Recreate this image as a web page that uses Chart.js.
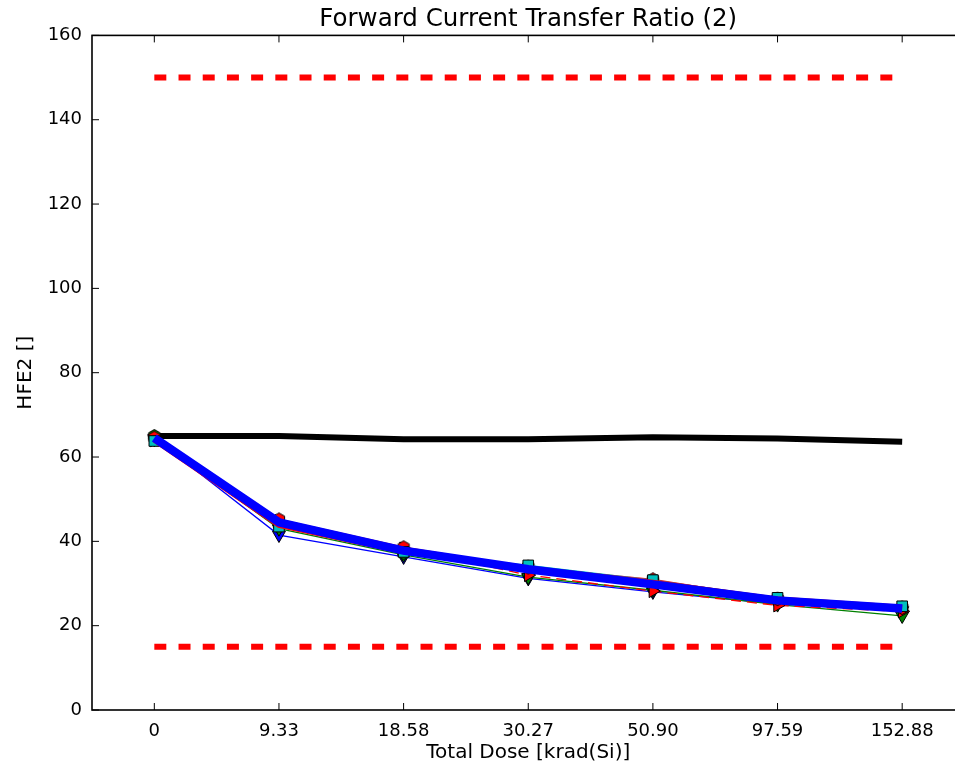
<!DOCTYPE html>
<html>
<head>
<meta charset="utf-8">
<script src="https://cdn.jsdelivr.net/npm/chart.js@4"></script>
<style>
html, body { margin: 0; padding: 0; overflow: hidden; background: #fff; }
canvas { display: block; }
</style>
</head>
<body>
<canvas id="chart" width="973" height="766" style="width:973px;height:766px"></canvas>
<script>
// Dose steps (x categories)
const doseLabels = ['0', '9.33', '18.58', '30.27', '50.90', '97.59', '152.88'];

// Spec limits
const upperLimit = [150, 150, 150, 150, 150, 150, 150];
const lowerLimit = [15, 15, 15, 15, 15, 15, 15];

// Control (unirradiated) reference
const controlRef = [65.0, 65.0, 64.2, 64.2, 64.7, 64.4, 63.6];

// Averages
const meanBlue = [64.5, 44.5, 37.8, 33.4, 29.8, 26.0, 24.1];
const meanRed = [64.0, 43.8, 37.5, 33.6, 30.3, 26.3, 24.4];

// Individual devices
const dev1 = [64.5, 41.5, 36.3, 31.2, 28.0, 25.2, 23.6];
const dev2 = [64.2, 43.0, 36.8, 31.5, 28.4, 25.0, 22.3];
const dev3 = [64.0, 44.8, 38.3, 32.0, 28.2, 24.8, 23.4];
const dev4 = [63.8, 43.5, 37.5, 34.3, 30.8, 26.6, 24.6];
const dev5 = [64.6, 45.2, 38.6, 33.8, 31.0, 26.3, 24.2];
const dev6 = [65.0, 44.0, 37.2, 34.0, 30.6, 26.4, 24.3];

Chart.defaults.font.family = "'DejaVu Sans', sans-serif";
Chart.defaults.font.size = 18;
Chart.defaults.color = '#000';

// hexagon marker (no built-in one in Chart.js)
function hexMarker(fill, r) {
    const c = document.createElement('canvas');
    const s = Math.ceil(r * 2 + 3);
    c.width = c.height = s;
    const g = c.getContext('2d');
    g.beginPath();
    for (let i = 0; i < 6; i++) {
        const a = -Math.PI / 2 + i * Math.PI / 3;
        const px = s / 2 + r * Math.cos(a);
        const py = s / 2 + r * Math.sin(a);
        if (i === 0) g.moveTo(px, py); else g.lineTo(px, py);
    }
    g.closePath();
    g.fillStyle = fill;
    g.fill();
    g.strokeStyle = '#000';
    g.lineWidth = 1;
    g.stroke();
    return c;
}

function device(data, color, style, rotation, dash) {
    return {
        data,
        borderColor: color,
        borderWidth: 1.3,
        borderDash: dash || [],
        backgroundColor: color,
        pointBackgroundColor: color,
        pointBorderColor: '#000',
        pointBorderWidth: 1,
        pointStyle: style,
        pointRotation: rotation || 0,
        pointRadius: 7.5,
        tension: 0
    };
}

const frame = {
    id: 'frame',
    afterDatasetsDraw(chart) {
        const { ctx, chartArea: a, scales: { x, y } } = chart;
        const line = (x1, y1, x2, y2) => {
            ctx.beginPath();
            ctx.moveTo(x1, y1);
            ctx.lineTo(x2, y2);
            ctx.stroke();
        };
        ctx.save();
        ctx.strokeStyle = '#000';
        ctx.lineWidth = 1;
        x.ticks.forEach((t, i) => {
            const px = x.getPixelForTick(i);
            line(px, a.bottom, px, a.bottom - 7);
            line(px, a.top, px, a.top + 7);
        });
        y.ticks.forEach((t, i) => {
            const py = y.getPixelForTick(i);
            line(a.left, py, a.left + 7, py);
            line(a.right, py, a.right - 7, py);
        });
        ctx.lineWidth = 1.6;
        ctx.strokeRect(a.left, a.top, a.right - a.left, a.bottom - a.top);
        ctx.restore();
    }
};

new Chart(document.getElementById('chart'), {
    type: 'line',
    data: {
        labels: doseLabels,
        datasets: [
            { data: meanBlue, borderColor: '#0000ff', borderWidth: 8.5, pointRadius: 0, tension: 0 },
            { data: meanRed, borderColor: '#ff0000', borderWidth: 5, pointRadius: 0, tension: 0 },
            device(dev4, '#00bfbf', 'rect', 0),
            device(dev5, '#ff0000', hexMarker('#ff0000', 6.5), 0),
            device(dev6, '#008000', hexMarker('#008000', 6.5), 0),
            device(dev3, '#ff0000', 'triangle', 90, [10, 6]),
            device(dev2, '#008000', 'triangle', 180),
            device(dev1, '#0000ff', 'triangle', 180),
            { data: controlRef, borderColor: '#000', borderWidth: 6, pointRadius: 0, tension: 0 },
            { data: upperLimit, borderColor: '#ff0000', borderWidth: 6, borderDash: [12, 12.2], borderCapStyle: 'butt', pointRadius: 0 },
            { data: lowerLimit, borderColor: '#ff0000', borderWidth: 6, borderDash: [12, 12.2], borderCapStyle: 'butt', pointRadius: 0 }
        ]
    },
    options: {
        responsive: false,
        animation: false,
        layout: { padding: { left: 0, right: 1, top: 0, bottom: 0 } },
        plugins: {
            legend: { display: false },
            tooltip: { enabled: false },
            title: {
                display: true,
                text: 'Forward Current Transfer Ratio (2)',
                fullSize: false,
                font: { size: 24.5, weight: 'normal' },
                padding: { top: 5, bottom: 1 }
            }
        },
        scales: {
            x: {
                type: 'category',
                offset: true,
                grid: { display: false, drawTicks: false },
                border: { display: false },
                ticks: { padding: 11, maxRotation: 0, autoSkip: false },
                title: { display: true, text: 'Total Dose [krad(Si)]', font: { size: 20 }, padding: { top: 0, bottom: 1 } },
                afterFit(s) { s.height = 56; }
            },
            y: {
                min: 0,
                max: 160,
                grid: { display: false, drawTicks: false },
                border: { display: false },
                ticks: { stepSize: 20, padding: 10 },
                title: { display: true, text: 'HFE2 []', font: { size: 20 }, padding: { top: 14, bottom: 0 } },
                afterFit(s) { s.width = 92; }
            }
        }
    },
    plugins: [frame]
});
</script>
</body>
</html>
